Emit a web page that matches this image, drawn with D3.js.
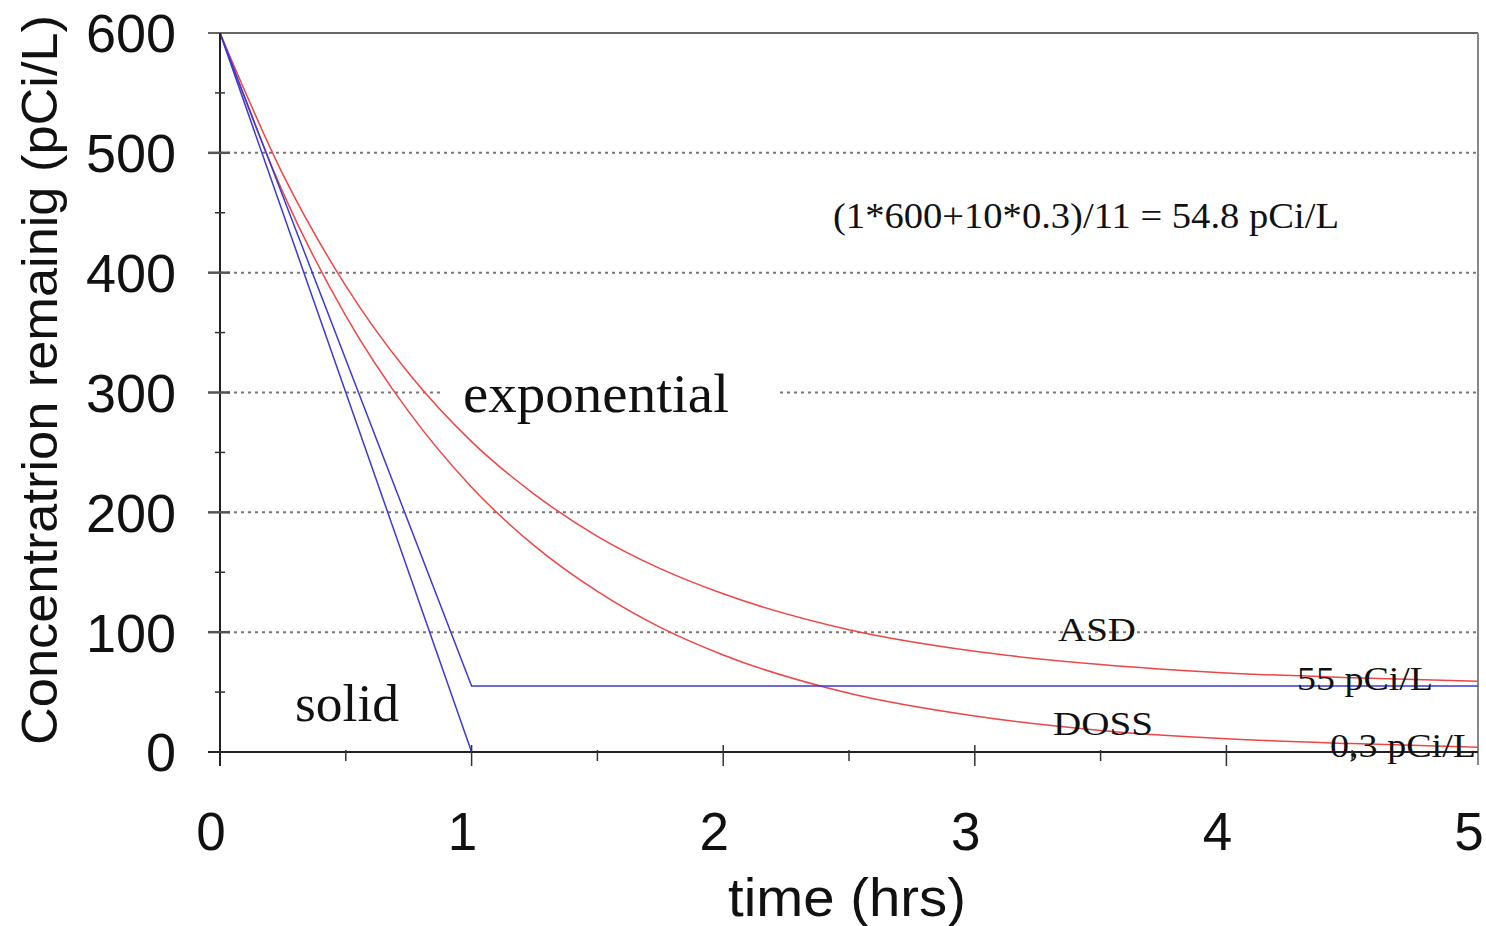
<!DOCTYPE html>
<html>
<head>
<meta charset="utf-8">
<script src="https://cdn.jsdelivr.net/npm/d3@7"></script>
<style>
  body { margin: 0; background: #fff; }
  svg { display: block; }
</style>
</head>
<body>
<svg id="chart" width="1486" height="926"></svg>
<script>
// data
const hours = [0, 0.25, 0.5, 0.75, 1, 1.25, 1.5, 1.75, 2, 2.5, 3, 3.5, 4, 4.5, 5];
const asdValues = [600, 482, 389, 316, 259, 215, 180, 153, 132, 102, 84, 73, 66, 62, 59];
const dossValues = [600, 467, 364, 284, 221, 172, 134, 104, 81, 49, 30, 18, 11, 7, 4];
const solidHours = [0, 1, 5];
const solidAsd = [600, 55, 55];
const solidDoss = [600, 0, 0];
const xTicks = [0, 1, 2, 3, 4, 5];
const xMinor = [0.5, 1.5, 2.5, 3.5, 4.5];
const yTicks = [0, 100, 200, 300, 400, 500, 600];
const yMinor = [50, 150, 250, 350, 450, 550];
const gridValues = [100, 200, 300, 400, 500];

const svg = d3.select('#chart');
const sans = '"Liberation Sans", Arial, sans-serif';
const serif = '"Liberation Serif", "Times New Roman", serif';

const x = d3.scaleLinear().domain([0, 5]).range([220, 1478]);
const y = d3.scaleLinear().domain([0, 600]).range([752, 33]);

// dotted grid
svg.append('g').selectAll('line').data(gridValues).join('line')
  .attr('x1', x(0)).attr('x2', x(5))
  .attr('y1', d => y(d)).attr('y2', d => y(d))
  .attr('stroke', '#777').attr('stroke-width', 2)
  .attr('stroke-dasharray', '3,4');

// frame top and right (gray)
svg.append('line').attr('x1', x(0) - 12).attr('x2', x(5)).attr('y1', y(600)).attr('y2', y(600))
  .attr('stroke', '#666').attr('stroke-width', 2);
svg.append('line').attr('x1', x(5)).attr('x2', x(5)).attr('y1', y(600)).attr('y2', y(0) + 13)
  .attr('stroke', '#888').attr('stroke-width', 2);

// white box behind "exponential"
svg.append('rect').attr('x', 440).attr('y', 365).attr('width', 338).attr('height', 60).attr('fill', '#fff');

// curves
const line = d3.line().x(d => x(d[0])).y(d => y(d[1]));
const smooth = d3.line().x(d => x(d[0])).y(d => y(d[1])).curve(d3.curveMonotoneX);

svg.append('path').datum(hours.map((h, i) => [h, asdValues[i]]))
  .attr('d', smooth).attr('fill', 'none').attr('stroke', '#f04545').attr('stroke-width', 1.5);
svg.append('path').datum(hours.map((h, i) => [h, dossValues[i]]))
  .attr('d', smooth).attr('fill', 'none').attr('stroke', '#f04545').attr('stroke-width', 1.5);
svg.append('path').datum(solidHours.map((h, i) => [h, solidAsd[i]]))
  .attr('d', line).attr('fill', 'none').attr('stroke', '#3a3ad4').attr('stroke-width', 1.5);
svg.append('path').datum(solidHours.map((h, i) => [h, solidDoss[i]]))
  .attr('d', line).attr('fill', 'none').attr('stroke', '#3a3ad4').attr('stroke-width', 1.5);

// axes lines
svg.append('line').attr('x1', x(0)).attr('x2', x(0)).attr('y1', y(600)).attr('y2', y(0) + 14)
  .attr('stroke', '#222').attr('stroke-width', 2);
svg.append('line').attr('x1', x(0) - 12).attr('x2', x(5)).attr('y1', y(0)).attr('y2', y(0))
  .attr('stroke', '#222').attr('stroke-width', 2);

// y ticks
svg.append('g').selectAll('line').data(yTicks.filter(d => d > 0 && d < 600)).join('line')
  .attr('x1', x(0) - 12).attr('x2', x(0) + 10)
  .attr('y1', d => y(d)).attr('y2', d => y(d))
  .attr('stroke', '#555').attr('stroke-width', 2.5);
svg.append('g').selectAll('line').data(yMinor).join('line')
  .attr('x1', x(0) - 5).attr('x2', x(0) + 5)
  .attr('y1', d => y(d)).attr('y2', d => y(d))
  .attr('stroke', '#333').attr('stroke-width', 1.5);

// x ticks
svg.append('g').selectAll('line').data(xTicks.slice(1, 5)).join('line')
  .attr('x1', d => x(d)).attr('x2', d => x(d))
  .attr('y1', y(0) - 7).attr('y2', y(0) + 14)
  .attr('stroke', '#333').attr('stroke-width', 1.5);
svg.append('g').selectAll('line').data(xMinor).join('line')
  .attr('x1', d => x(d)).attr('x2', d => x(d))
  .attr('y1', y(0) - 2).attr('y2', y(0) + 9)
  .attr('stroke', '#333').attr('stroke-width', 1.5);

// tick labels
svg.append('g').selectAll('text').data(yTicks).join('text')
  .attr('x', 176).attr('y', d => y(d)).attr('dy', '0.36em')
  .attr('text-anchor', 'end')
  .style('font-family', sans).style('font-size', '54px').attr('fill', '#111')
  .text(d => d);
svg.append('g').selectAll('text').data(xTicks).join('text')
  .attr('x', d => x(d) - 9).attr('y', 850)
  .attr('text-anchor', 'middle')
  .style('font-family', sans).style('font-size', '53px').attr('fill', '#111')
  .text(d => d);

// axis titles
svg.append('text').attr('x', 847).attr('y', 916).attr('text-anchor', 'middle')
  .attr('textLength', 238).attr('lengthAdjust', 'spacingAndGlyphs')
  .style('font-family', sans).style('font-size', '53px').attr('fill', '#111')
  .text('time (hrs)');
svg.append('text').attr('transform', 'translate(57,380) rotate(-90)')
  .attr('text-anchor', 'middle')
  .attr('textLength', 730).attr('lengthAdjust', 'spacingAndGlyphs')
  .style('font-family', sans).style('font-size', '50px').attr('fill', '#111')
  .text('Concentratrion remainig (pCi/L)');

// annotations
const notes = [
  { t: 'exponential', x: 463, y: 412, s: 54, w: 266 },
  { t: 'solid', x: 295, y: 721, s: 52, w: 104 },
  { t: '(1*600+10*0.3)/11 = 54.8 pCi/L', x: 833, y: 228, s: 36, w: 506 },
  { t: 'ASD', x: 1058, y: 641, s: 34, w: 78 },
  { t: '55 pCi/L', x: 1297, y: 690, s: 34, w: 136 },
  { t: 'DOSS', x: 1053, y: 735, s: 34, w: 100 },
  { t: '0,3 pCi/L', x: 1330, y: 757, s: 34, w: 146 }
];
svg.append('g').selectAll('text').data(notes).join('text')
  .attr('x', d => d.x).attr('y', d => d.y)
  .attr('textLength', d => d.w).attr('lengthAdjust', 'spacingAndGlyphs')
  .style('font-family', serif).style('font-size', d => d.s + 'px').attr('fill', '#111')
  .text(d => d.t);
</script>
</body>
</html>
